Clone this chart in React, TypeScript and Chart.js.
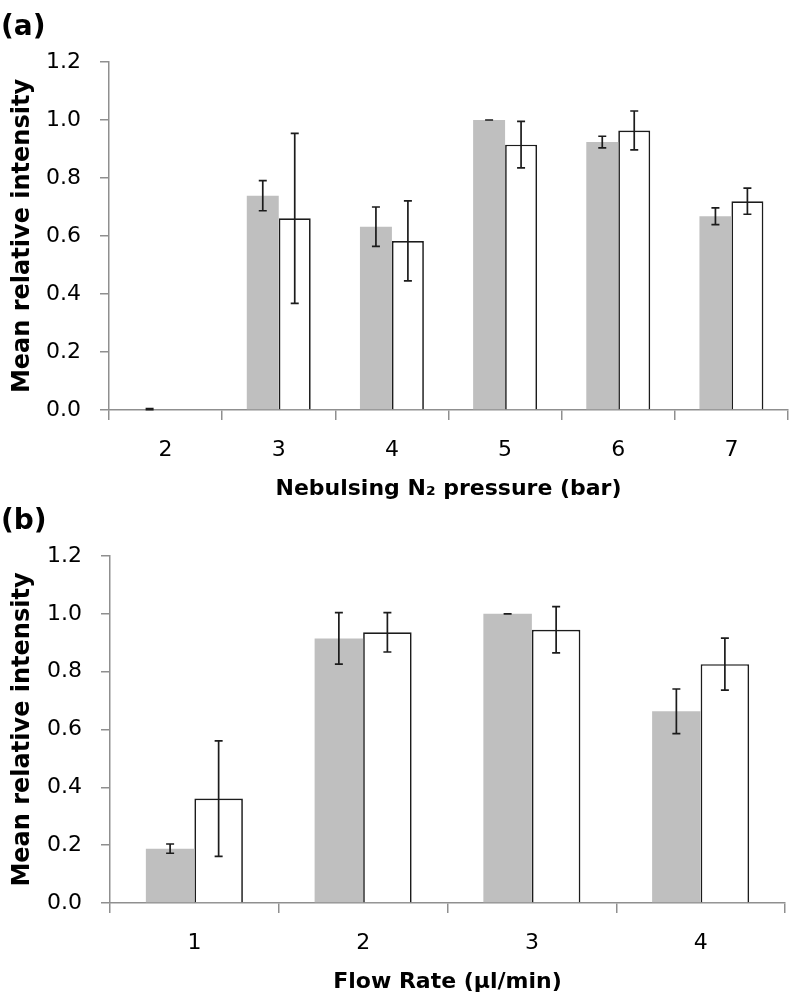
import React, { useEffect, useRef } from "react";
import { Chart, registerables } from "chart.js";

Chart.register(...registerables);

// ---- Panel (a): Nebulsing N2 pressure ----
const pressureLabels = ["2", "3", "4", "5", "6", "7"];
const pressureGray = [0.003, 0.739, 0.632, 1.0, 0.924, 0.668];
const pressureGrayErr = [0.002, 0.052, 0.068, 0.0, 0.02, 0.029];
const pressureWhite = [null, 0.661, 0.583, 0.915, 0.964, 0.72];
const pressureWhiteErr = [0, 0.293, 0.138, 0.08, 0.067, 0.045];

// ---- Panel (b): Flow rate ----
const flowLabels = ["1", "2", "3", "4"];
const flowGray = [0.188, 0.915, 1.0, 0.663];
const flowGrayErr = [0.016, 0.089, 0.0, 0.077];
const flowWhite = [0.361, 0.936, 0.945, 0.826];
const flowWhiteErr = [0.2, 0.068, 0.08, 0.09];

const yTicks = [0, 0.2, 0.4, 0.6, 0.8, 1.0, 1.2];

const FONT = "'DejaVu Sans', sans-serif";
const AXIS_COLOR = "#8f8f8f";
const INK = "#1c1c1c";

const errorBarPlugin = {
  id: "errorBars",
  afterDatasetsDraw(chart: any) {
    const ctx = chart.ctx;
    const yScale = chart.scales.y;
    chart.data.datasets.forEach((ds: any, di: number) => {
      const meta = chart.getDatasetMeta(di);
      const errs: number[] = ds.errors || [];
      meta.data.forEach((el: any, i: number) => {
        const v = ds.data[i];
        if (v === null || v === undefined) return;
        const e = errs[i] || 0;
        const x = el.x;
        const yTop = yScale.getPixelForValue(v + e);
        const yBot = yScale.getPixelForValue(Math.max(0, v - e));
        ctx.save();
        ctx.strokeStyle = INK;
        ctx.lineWidth = 1.7;
        ctx.beginPath();
        ctx.moveTo(x, yTop);
        ctx.lineTo(x, yBot);
        ctx.moveTo(x - 4, yTop);
        ctx.lineTo(x + 4, yTop);
        ctx.moveTo(x - 4, yBot);
        ctx.lineTo(x + 4, yBot);
        ctx.stroke();
        ctx.restore();
      });
    });
  },
};

const panelLabelPlugin = {
  id: "panelLabel",
  afterDraw(chart: any) {
    const txt = chart.options.plugins.panelLabel?.text;
    if (!txt) return;
    const ctx = chart.ctx;
    ctx.save();
    ctx.font = `bold 28px ${FONT}`;
    ctx.fillStyle = "#000";
    ctx.textAlign = "left";
    ctx.textBaseline = "middle";
    ctx.fillText(txt, 1, 28);
    ctx.restore();
  },
};

function makeConfig(
  labels: string[],
  gray: (number | null)[],
  grayErr: number[],
  white: (number | null)[],
  whiteErr: number[],
  xTitle: string,
  panel: string,
  yWidth: number,
  padRight: number,
  catPct: number
): any {
  return {
    type: "bar",
    data: {
      labels,
      datasets: [
        {
          data: gray,
          errors: grayErr,
          backgroundColor: "#bfbfbf",
          borderWidth: 0,
          categoryPercentage: catPct,
          barPercentage: 1.0,
        },
        {
          data: white,
          errors: whiteErr,
          backgroundColor: "#ffffff",
          borderColor: INK,
          borderWidth: 1.7,
          categoryPercentage: catPct,
          barPercentage: 1.0,
        },
      ],
    },
    options: {
      responsive: false,
      animation: false,
      devicePixelRatio: 1,
      layout: { padding: { top: 62, right: padRight, left: 0, bottom: 0 } },
      plugins: {
        legend: { display: false },
        tooltip: { enabled: false },
        panelLabel: { text: panel },
      },
      scales: {
        x: {
          offset: true,
          afterFit: (s: any) => {
            s.height = 100;
          },
          grid: {
            offset: true,
            drawOnChartArea: false,
            drawTicks: true,
            tickLength: 10,
            color: AXIS_COLOR,
            lineWidth: 1.5,
          },
          border: { color: AXIS_COLOR, width: 1.5 },
          ticks: {
            padding: 17,
            color: "#000",
            font: { family: FONT, size: 22 },
            maxRotation: 0,
          },
          title: {
            display: true,
            text: xTitle,
            color: "#000",
            font: { family: FONT, size: 22, weight: "bold" },
            padding: { top: 0, bottom: 8 },
          },
        },
        y: {
          min: 0,
          max: 1.2,
          afterFit: (s: any) => {
            s.width = yWidth;
          },
          afterBuildTicks: (s: any) => {
            s.ticks = yTicks.map((v) => ({ value: v }));
          },
          grid: {
            drawOnChartArea: false,
            drawTicks: true,
            tickLength: 9,
            color: AXIS_COLOR,
            lineWidth: 1.5,
          },
          border: { color: AXIS_COLOR, width: 1.5 },
          ticks: {
            padding: 19,
            color: "#000",
            font: { family: FONT, size: 22 },
            callback: (v: any) => Number(v).toFixed(1),
          },
          title: {
            display: true,
            text: "Mean relative intensity",
            color: "#000",
            font: { family: FONT, size: 24, weight: "bold" },
            padding: { top: 8, bottom: 0 },
          },
        },
      },
    },
    plugins: [errorBarPlugin, panelLabelPlugin],
  };
}

function Panel(props: { cfg: () => any; top: number; height: number }) {
  const ref = useRef<HTMLCanvasElement | null>(null);
  useEffect(() => {
    if (!ref.current) return;
    const chart = new Chart(ref.current, props.cfg());
    return () => chart.destroy();
  }, []);
  return (
    <canvas
      ref={ref}
      width={789}
      height={props.height}
      style={{
        position: "absolute",
        left: 0,
        top: props.top,
        width: 789,
        height: props.height,
      }}
    />
  );
}

export default function App() {
  return (
    <div
      style={{
        position: "absolute",
        left: 0,
        top: 0,
        width: 789,
        height: 1003,
        background: "#fff",
      }}
    >
      <Panel
        top={0}
        height={510}
        cfg={() =>
          makeConfig(
            pressureLabels,
            pressureGray,
            pressureGrayErr,
            pressureWhite,
            pressureWhiteErr,
            "Nebulsing N\u2082 pressure (bar)",
            "(a)",
            109,
            1,
            0.565
          )
        }
      />
      <Panel
        top={494}
        height={509}
        cfg={() =>
          makeConfig(
            flowLabels,
            flowGray,
            flowGrayErr,
            flowWhite,
            flowWhiteErr,
            "Flow Rate (\u00b5l/min)",
            "(b)",
            110,
            4,
            0.575
          )
        }
      />
    </div>
  );
}
